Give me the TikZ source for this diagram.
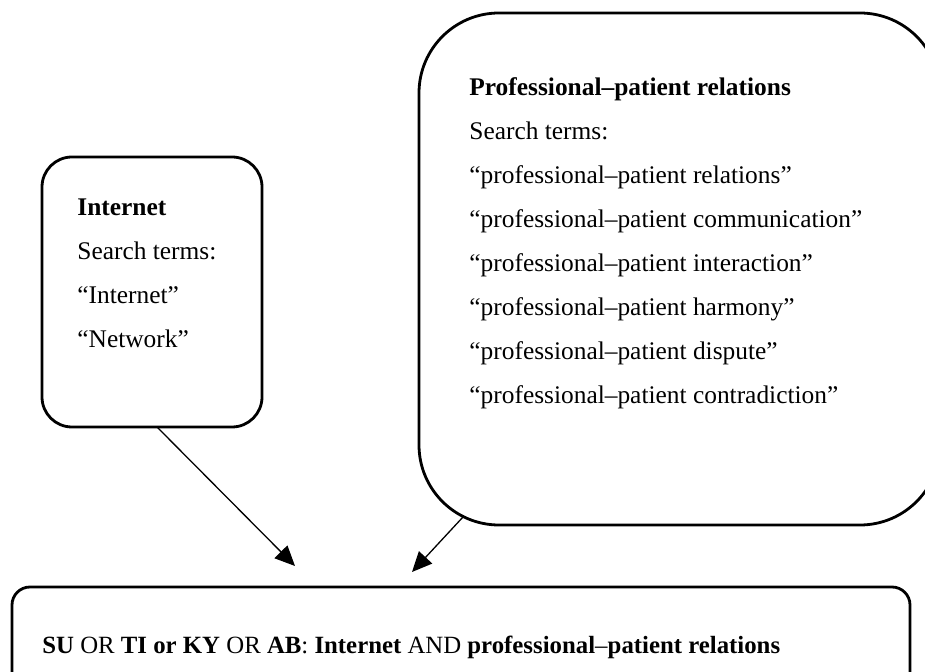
\documentclass[tikz,border=0pt]{standalone}
\usepackage{fontspec}
\setmainfont{Liberation Serif}
\usetikzlibrary{arrows.meta}
\tikzset{
  box/.style={draw, line width=1.4pt, inner sep=0pt, outer sep=0pt},
  boxtext/.style={anchor=base west, align=left, inner sep=0pt, font=\fontsize{12.7}{22}\selectfont},
  link/.style={-{Triangle[length=10pt,width=9pt]}, line width=0.65pt}
}
\begin{document}
\begin{tikzpicture}[x=0.5pt,y=-0.5pt]
  \useasboundingbox (0,0) rectangle (925,672);
  \clip (0,0) rectangle (925,672);
  \draw
    (152,292) node[box, rounded corners=15pt, minimum width=110pt, minimum height=135pt] (internet) {}
    (679.5,269) node[box, rounded corners=40pt, minimum width=260.5pt, minimum height=256pt] (relations) {}
    (461,638.5) node[box, rounded corners=9pt, minimum width=449pt, minimum height=51.5pt] (query) {};
  % base of the last line
  \node[boxtext] (internettext) at (77,348)
    {\textbf{Internet}\\Search terms:\\“Internet”\\“Network”};
  \node[boxtext] (relationstext) at (469,404)
    {\textbf{Professional–patient relations}\\Search terms:\\
     “professional–patient relations”\\“professional–patient communication”\\
     “professional–patient interaction”\\“professional–patient harmony”\\
     “professional–patient dispute”\\“professional–patient contradiction”};
  \node[boxtext, font=\fontsize{12.4}{22}\selectfont] (querytext) at (42,653)
    {\textbf{SU} OR \textbf{TI or KY} OR \textbf{AB}: \textbf{Internet} AND \textbf{professional}–\textbf{patient relations}};
  \coordinate (internettip) at (295,566);
  \coordinate (relationstip) at (412,572);
  \begin{scope}[link]
    \draw ([shift={(5,0)}]internet.south) -- (internettip);
    \draw ([shift={(44,-8)}]relations.south west) -- (relationstip);
  \end{scope}
\end{tikzpicture}
\end{document}
